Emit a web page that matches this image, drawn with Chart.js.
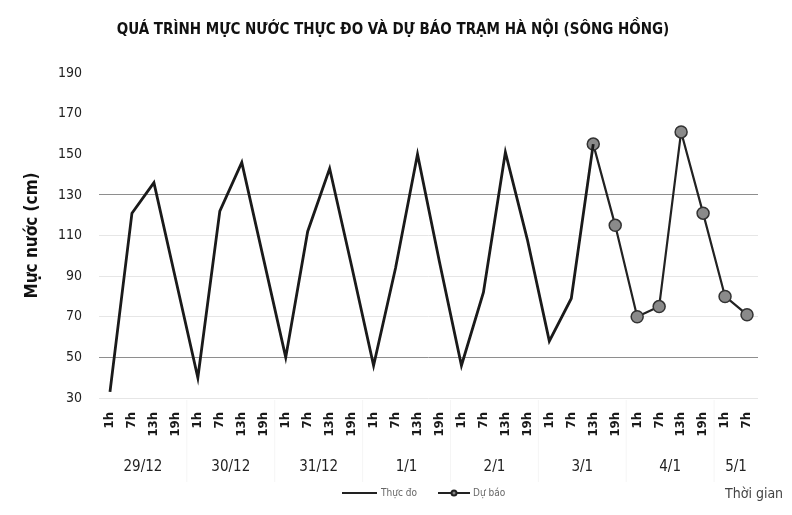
<!DOCTYPE html>
<html>
<head>
<meta charset="utf-8">
<script src="https://cdn.jsdelivr.net/npm/chart.js@4.4.1/dist/chart.umd.min.js"></script>
<style>
html,body{margin:0;padding:0;background:#fff;}
#wrap{width:792px;height:515px;}
</style>
</head>
<body>
<div id="wrap"><canvas id="c" width="792" height="515"></canvas></div>
<script>
const hours = ['1h','7h','13h','19h','1h','7h','13h','19h','1h','7h','13h','19h','1h','7h','13h','19h','1h','7h','13h','19h','1h','7h','13h','19h','1h','7h','13h','19h','1h','7h'];
const days = ['29/12','30/12','31/12','1/1','2/1','3/1','4/1','5/1'];
const measured = [33,121,136,88,40,122,146,98,50,112,143,95,46,94,150,97,46,82,151,108,58,79,155,null,null,null,null,null,null,null];
const forecast = [null,null,null,null,null,null,null,null,null,null,null,null,null,null,null,null,null,null,null,null,null,null,155,115,70,75,161,121,80,71];
const yTicks = [30,50,70,90,110,130,150,170,190];
const titleText = 'QUÁ TRÌNH MỰC NƯỚC THỰC ĐO VÀ DỰ BÁO TRẠM HÀ NỘI (SÔNG HỒNG)';
const yTitle = 'Mực nước (cm)';
const xTitle = 'Thời gian';
const legendNames = ['Thực đo','Dự báo'];

const FONT = "'DejaVu Sans Condensed','Noto Sans',sans-serif";

const extras = {
  id:'extras',
  afterDraw(chart){
    const ctx = chart.ctx;
    const xs = chart.scales.x;
    ctx.save();
    // title
    ctx.fillStyle = '#111';
    ctx.font = 'bold 15px ' + FONT;
    ctx.textAlign = 'center';
    ctx.textBaseline = 'middle';
    ctx.fillText(titleText, 393, 30);
    // day labels
    ctx.fillStyle = '#222';
    ctx.font = '15px ' + FONT;
    const n = hours.length;
    for (let g = 0; g < days.length; g++) {
      const s = g*4, e = Math.min(g*4+3, n-1);
      const cx = (xs.getPixelForValue(s) + xs.getPixelForValue(e)) / 2;
      ctx.fillText(days[g], cx, 467);
      if (g > 0) {
        const sx = (xs.getPixelForValue(s-1) + xs.getPixelForValue(s)) / 2;
        ctx.strokeStyle = 'rgba(0,0,0,0.045)';
        ctx.lineWidth = 1;
        ctx.beginPath(); ctx.moveTo(sx, 400); ctx.lineTo(sx, 482); ctx.stroke();
      }
    }
    // legend
    ctx.strokeStyle = '#222';
    ctx.lineWidth = 2;
    ctx.beginPath(); ctx.moveTo(342, 493); ctx.lineTo(377, 493); ctx.stroke();
    ctx.beginPath(); ctx.moveTo(438, 493); ctx.lineTo(470, 493); ctx.stroke();
    ctx.fillStyle = '#888';
    ctx.beginPath(); ctx.arc(454, 493, 2.5, 0, Math.PI*2); ctx.fill(); ctx.stroke();
    ctx.fillStyle = '#666';
    ctx.font = '10px ' + FONT;
    ctx.textAlign = 'left';
    ctx.fillText(legendNames[0], 381, 493);
    ctx.fillText(legendNames[1], 473, 493);
    // x title
    ctx.fillStyle = '#444';
    ctx.font = '14px ' + FONT;
    ctx.fillText(xTitle, 725, 494);
    ctx.restore();
  }
};

new Chart(document.getElementById('c'), {
  type:'line',
  data:{
    labels: hours,
    datasets:[
      {label:legendNames[0], data:measured, borderColor:'#1a1a1a', borderWidth:2.8, pointRadius:0, tension:0, spanGaps:false},
      {label:legendNames[1], data:forecast, borderColor:'#222', borderWidth:2.2, pointRadius:6, pointBackgroundColor:'#8a8a8a', pointBorderColor:'#333', pointBorderWidth:1.5, tension:0}
    ]
  },
  options:{
    responsive:false,
    animation:false,
    layout:{padding:{top:73,left:20,right:34,bottom:0}},
    plugins:{
      legend:{display:false},
      tooltip:{enabled:false},
      title:{display:false}
    },
    scales:{
      x:{
        offset:true,
        grid:{display:false},
        border:{display:false},
        ticks:{minRotation:90, maxRotation:90, autoSkip:false, padding:6, color:'#1a1a1a', font:{family:FONT, size:13, weight:'bold'}},
        afterFit(s){ s.height = 117; }
      },
      y:{
        min:30, max:190,
        afterBuildTicks(s){ s.ticks = yTicks.map(v=>({value:v})); },
        border:{display:false},
        grid:{drawTicks:false, color(c){ const v=c.tick.value; if(v===50||v===130) return '#8e8e8e'; if(v===30||v===70||v===90||v===110) return '#e6e6e6'; return 'rgba(0,0,0,0)'; }},
        ticks:{padding:17, color:'#222', font:{family:FONT, size:14}},
        title:{display:true, text:yTitle, color:'#111', font:{family:FONT, size:17, weight:'bold'}, padding:{top:2,bottom:4}},
        afterFit(s){ s.width = 79; }
      }
    }
  },
  plugins:[extras]
});
</script>
</body>
</html>
